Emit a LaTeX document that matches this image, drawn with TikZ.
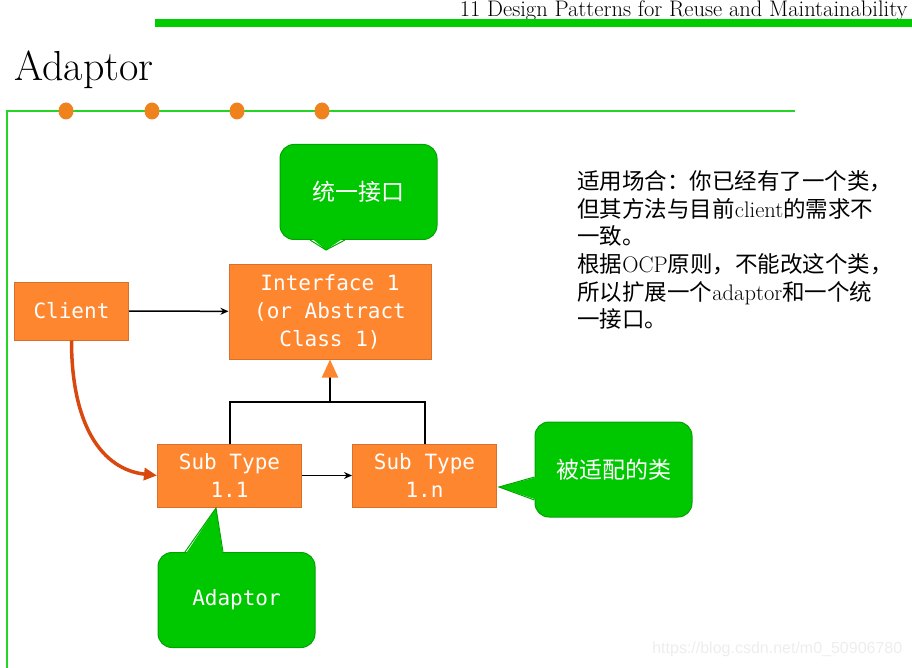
\documentclass[tikz,border=0pt]{standalone}
\usepackage{fontspec}
\newfontfamily\cjk{Noto Sans CJK SC}
\newfontfamily\codefont{DejaVu Sans Mono}
\newfontfamily\markfont{Liberation Sans}
\usetikzlibrary{arrows.meta,calc,positioning}
\definecolor{boxorange}{HTML}{FD862F}
\definecolor{boxedge}{HTML}{D8702C}
\definecolor{callgreen}{HTML}{00C800}
\definecolor{calledge}{HTML}{00A400}
\definecolor{slidegreen}{HTML}{00CC00}
\definecolor{adaptred}{HTML}{D9480F}
\definecolor{dotorange}{HTML}{F0821E}

\begin{document}
\begin{tikzpicture}[x=1pt, y=-1pt, thick,
    cls/.style = {draw=boxedge, line width=1pt, fill=boxorange, text=white, inner sep=0pt,
                  align=center, font=\codefont\fontsize{21}{28}\selectfont},
    note/.style = {draw=calledge, line width=1pt, fill=callgreen, text=white, rounded corners=14pt,
                   minimum width=157pt, minimum height=95pt, inner sep=0pt},
    tip/.style = {fill=callgreen},
    tipline/.style = {draw=calledge, line width=1pt},
    link/.style = {-{Stealth[length=8pt,width=7pt]}, line width=1.5pt},
    isa/.style = {line width=2pt}]
    \useasboundingbox (0,0) rectangle (912,668);

    % slide frame
    \node[anchor=base east, inner sep=0pt, font=\fontsize{22.5}{26}\selectfont] (header) at (908,17)
        {11 Design Patterns for Reuse and Maintainability};
    \fill[slidegreen] (155,19) rectangle (912,27);
    \node[anchor=base west, font=\fontsize{42}{48}\selectfont, inner sep=0pt] (title) at (14,81) {Adaptor};
    \draw[slidegreen!85!white, line width=1.5pt] (795,111) -- (7,111) -- (7,668);
    \foreach \x in {66,152,237,322}
        \fill[dotorange] (\x,111) ellipse (7.5 and 8.5);

    % classes
    \node[cls, minimum width=114pt, minimum height=58pt] (client) at (71.5,311) {Client};
    \node[cls, minimum width=202pt, minimum height=95pt] (iface) at (330,311.5)
        {Interface 1\\(or Abstract\\Class 1)};
    \node[cls, minimum width=144pt, minimum height=63pt] (sub1) at (229.5,475.5) {Sub Type\\1.1};
    \node[cls, minimum width=144pt, minimum height=63pt] (subn) [right=50pt of sub1] {Sub Type\\1.n};

    \draw[link] (client) -- (iface);
    \draw[link] (sub1) -- (subn);

    \coordinate (join) at (330,402);
    \draw[isa] (sub1.north) |- (join) -| (subn.north);
    \draw[isa, -{Triangle[length=18pt,width=16pt,fill=boxorange,color=boxorange]}] (join) -- (iface.south);

    \draw[adaptred, line width=3.5pt, -{Triangle[length=13pt,width=12pt]}]
        (client.south) .. controls +(0,85) and +(-55,-6) .. (sub1.west);

    % callouts
    \node[note, font=\cjk\fontsize{23}{28}\selectfont] (uni) at (358.5,192) {统一接口};
    \coordinate (unitip) at (326,250);
    \fill[tip] ($(uni.south)+(-48.5,-3)$) -- (unitip) -- ($(uni.south)+(-13.5,-3)$) -- cycle;
    \draw[tipline] ($(uni.south)+(-48.5,0)$) -- (unitip) -- ($(uni.south)+(-13.5,0)$);

    \node[note, font=\codefont\fontsize{21}{28}\selectfont] (adapter) at (236.5,600) {Adaptor};
    \coordinate (adaptertip) at (216,508);
    \fill[tip] ($(adapter.north)+(-51.5,3)$) -- (adaptertip) -- ($(adapter.north)+(-13.5,3)$) -- cycle;
    \draw[tipline] ($(adapter.north)+(-51.5,0)$) -- (adaptertip) -- ($(adapter.north)+(-13.5,0)$);

    \node[note, font=\cjk\fontsize{23}{28}\selectfont] (adaptee) at (613.5,469.5) {被适配的类};
    \coordinate (adapteetip) at (499,487);
    \fill[tip] ($(adaptee.west)+(3,7.5)$) -- (adapteetip) -- ($(adaptee.west)+(3,30.5)$) -- cycle;
    \draw[tipline] ($(adaptee.west)+(0,7.5)$) -- (adapteetip) -- ($(adaptee.west)+(0,30.5)$);

    % explanation
    \node[anchor=north west, align=left, inner sep=0pt, font=\fontsize{22.5}{27.7}\selectfont] (usage) at (577,170)
        {{\cjk 适用场合：你已经有了一个类，}\\
         {\cjk 但其方法与目前}client{\cjk 的需求不}\\
         {\cjk 一致。}\\
         {\cjk 根据}OCP{\cjk 原则，不能改这个类，}\\
         {\cjk 所以扩展一个}adaptor{\cjk 和一个统}\\
         {\cjk 一接口。}};

    \node[anchor=east, text=black!7, font=\markfont\fontsize{16}{18}\selectfont] (mark) at (906,649)
        {https://blog.csdn.net/m0\_50906780};
\end{tikzpicture}
\end{document}
